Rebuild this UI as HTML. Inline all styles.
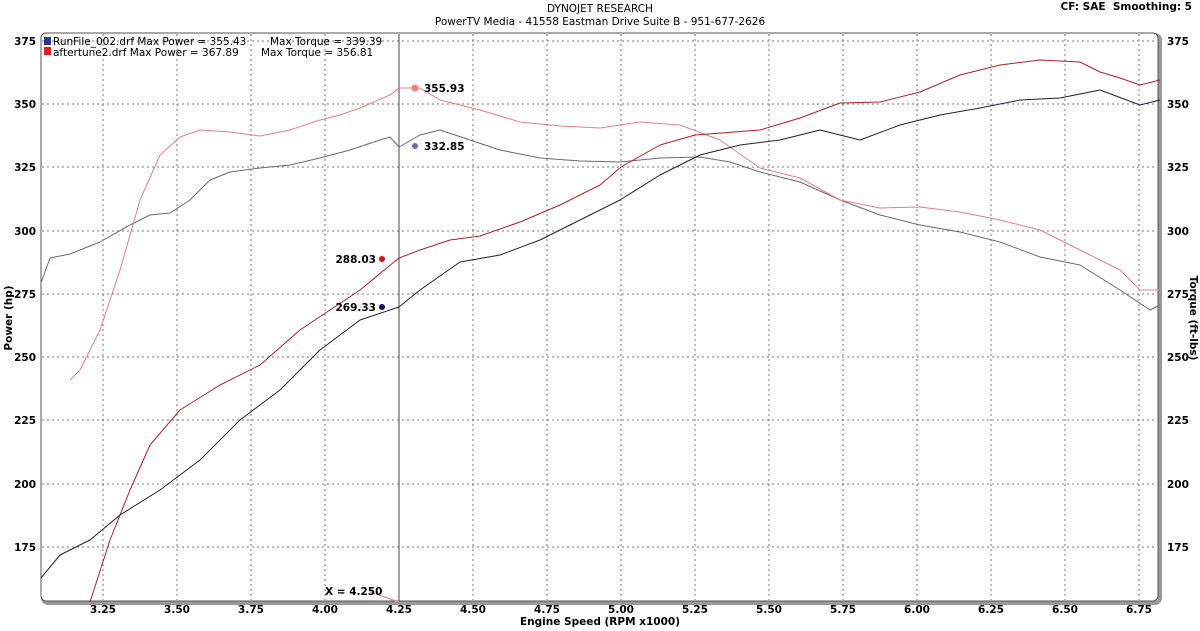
<!DOCTYPE html>
<html><head><style>body{margin:0;background:#fff}svg{display:block;font-family:"DejaVu Sans","Liberation Sans",sans-serif}</style></head><body>
<svg width="1200" height="631" viewBox="0 0 1200 631">
<g font-size="10.5" text-anchor="middle" fill="#000">
<text x="600" y="12">DYNOJET RESEARCH</text>
<text x="600" y="25">PowerTV Media - 41558 Eastman Drive Suite B - 951-677-2626</text>
</g>
<text x="1192" y="10" font-size="10.5" font-weight="bold" text-anchor="end">CF: SAE&#160; Smoothing: 5</text>
<rect x="43" y="35" width="1117" height="568" rx="5" fill="none" stroke="#999" stroke-width="4"/>
<rect x="41" y="33" width="1117" height="568" rx="5" fill="#fff" stroke="#555" stroke-width="1"/>
<g stroke="#777" stroke-width="1" stroke-dasharray="2,3">
<line x1="103" y1="34" x2="103" y2="600"/><line x1="177" y1="34" x2="177" y2="600"/><line x1="251" y1="34" x2="251" y2="600"/><line x1="325" y1="34" x2="325" y2="600"/><line x1="473" y1="34" x2="473" y2="600"/><line x1="547" y1="34" x2="547" y2="600"/><line x1="621" y1="34" x2="621" y2="600"/><line x1="695" y1="34" x2="695" y2="600"/><line x1="769" y1="34" x2="769" y2="600"/><line x1="843" y1="34" x2="843" y2="600"/><line x1="917" y1="34" x2="917" y2="600"/><line x1="991" y1="34" x2="991" y2="600"/><line x1="1065" y1="34" x2="1065" y2="600"/><line x1="1139" y1="34" x2="1139" y2="600"/>
<line x1="42" y1="41" x2="1157" y2="41"/><line x1="42" y1="104" x2="1157" y2="104"/><line x1="42" y1="167" x2="1157" y2="167"/><line x1="42" y1="231" x2="1157" y2="231"/><line x1="42" y1="294" x2="1157" y2="294"/><line x1="42" y1="357" x2="1157" y2="357"/><line x1="42" y1="420" x2="1157" y2="420"/><line x1="42" y1="484" x2="1157" y2="484"/><line x1="42" y1="547" x2="1157" y2="547"/>
</g>
<line x1="399" y1="34" x2="399" y2="601" stroke="#444"/>
<g font-size="10.5" font-weight="bold" text-anchor="end">
<text x="36" y="45">375</text><text x="36" y="108">350</text><text x="36" y="171">325</text><text x="36" y="235">300</text><text x="36" y="298">275</text><text x="36" y="361">250</text><text x="36" y="424">225</text><text x="36" y="488">200</text><text x="36" y="551">175</text>
</g>
<g font-size="10.5" font-weight="bold">
<text x="1167" y="45">375</text><text x="1167" y="108">350</text><text x="1167" y="171">325</text><text x="1167" y="235">300</text><text x="1167" y="298">275</text><text x="1167" y="361">250</text><text x="1167" y="424">225</text><text x="1167" y="488">200</text><text x="1167" y="551">175</text>
</g>
<g font-size="10.5" font-weight="bold" text-anchor="middle">
<text x="103" y="613">3.25</text><text x="177" y="613">3.50</text><text x="251" y="613">3.75</text><text x="325" y="613">4.00</text><text x="399" y="613">4.25</text><text x="473" y="613">4.50</text><text x="547" y="613">4.75</text><text x="621" y="613">5.00</text><text x="695" y="613">5.25</text><text x="769" y="613">5.50</text><text x="843" y="613">5.75</text><text x="917" y="613">6.00</text><text x="991" y="613">6.25</text><text x="1065" y="613">6.50</text><text x="1139" y="613">6.75</text>
<text x="600" y="625">Engine Speed (RPM x1000)</text>
</g>
<text transform="translate(12,318) rotate(-90)" font-size="10.5" font-weight="bold" text-anchor="middle">Power (hp)</text>
<text transform="translate(1190,318) rotate(90)" font-size="10.5" font-weight="bold" text-anchor="middle">Torque (ft-lbs)</text>
<rect x="44" y="37" width="7" height="8" fill="#33338a"/><rect x="44" y="47" width="7" height="8" fill="#d22"/>
<g font-size="10.5">
<text x="53" y="45">RunFile_002.drf Max Power = 355.43</text><text x="270" y="45">Max Torque = 339.39</text>
<text x="53" y="56">aftertune2.drf Max Power = 367.89</text><text x="261" y="56">Max Torque = 356.81</text>
</g>
<g fill="none" stroke-width="1" stroke-linejoin="round">
<polyline stroke="#6a6a7a" points="41,283 50,258 70,254 100,242 130,225 150,215 170,213 190,200 210,180 230,172 260,168 290,165 320,158 350,150 380,140 390,137 399,147 420,135 440,130 470,140 500,150 540,158 580,161 620,162 660,158 700,157 730,162 760,172 800,182 840,200 880,215 920,225 960,232 1000,242 1040,257 1080,265 1120,290 1150,310 1160,305"/>
<polyline stroke="#e88080" points="70,380 80,370 100,330 120,270 140,200 160,155 180,137 200,130 230,132 260,136 290,130 320,120 340,115 360,108 390,95 399,88 420,88 440,100 480,110 520,122 560,126 600,128 640,122 680,125 720,140 760,168 780,173 800,178 840,200 880,208 920,207 960,212 1000,220 1040,230 1080,250 1120,270 1140,290 1160,290"/>
<polyline stroke="#b22222" points="90,602 110,540 130,490 150,445 180,410 220,385 260,365 300,330 330,310 360,290 399,258 420,250 450,240 480,236 520,222 560,205 600,185 621,167 660,145 695,135 760,130 800,118 840,103 880,102 920,92 960,75 1000,65 1040,60 1080,62 1100,72 1120,78 1140,85 1160,80"/>
<polyline stroke="#222233" points="41,578 60,555 90,540 120,515 160,490 200,460 240,420 280,390 320,350 360,320 399,307 420,290 460,262 500,255 540,240 580,220 620,200 660,175 700,155 740,145 780,140 820,130 860,140 900,125 940,115 980,108 1020,100 1060,98 1100,90 1140,105 1160,100"/>
<line x1="370" y1="592" x2="399" y2="602" stroke="#e88080"/>
</g>
<circle cx="415" cy="146" r="3" fill="#6a6ab0"/><circle cx="415" cy="88" r="3.5" fill="#f08080"/>
<circle cx="382" cy="259" r="3" fill="#e01010"/><circle cx="382" cy="307" r="3" fill="#10106a"/>
<g font-size="10.5" font-weight="bold">
<text x="424" y="150">332.85</text><text x="424" y="92">355.93</text>
<text x="376" y="263" text-anchor="end">288.03</text><text x="376" y="311" text-anchor="end">269.33</text>
<text x="325" y="595">X = 4.250</text>
</g>
</svg>
</body></html>
